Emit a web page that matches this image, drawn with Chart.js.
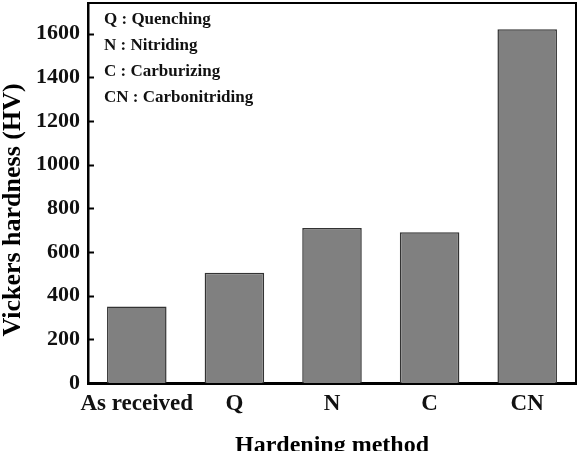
<!DOCTYPE html>
<html>
<head>
<meta charset="utf-8">
<script src="https://cdn.jsdelivr.net/npm/chart.js@4/dist/chart.umd.min.js"></script>
<style>
    html, body { margin: 0; padding: 0; background: #fff; overflow: hidden; }
    #wrap { width: 587px; height: 451px; }
</style>
</head>
<body>
<div id="wrap"><canvas id="myChart"></canvas></div>
<script>
const categories = ['As received', 'Q', 'N', 'C', 'CN']
const hardness = [350, 505, 710, 690, 1620]
const yTicks = [0, 200, 400, 600, 800, 1000, 1200, 1400, 1600]
const notes = ['Q : Quenching', 'N : Nitriding', 'C : Carburizing', 'CN : Carbonitriding']
const yTitle = 'Vickers hardness (HV)'
const xTitle = 'Hardening method'

const serif = '"Liberation Serif", "Times New Roman", serif'

// frame, inward ticks, notes box and y title
const extras = {
    id: 'extras',
    afterDraw(chart) {
        const ctx = chart.ctx
        const area = chart.chartArea
        const y = chart.scales.y
        ctx.save()
        ctx.strokeStyle = '#000'
        ctx.lineWidth = 2
        ctx.beginPath()
        ctx.moveTo(area.left, area.top)
        ctx.lineTo(area.right, area.top)
        ctx.lineTo(area.right, area.bottom)
        ctx.stroke()

        ctx.lineWidth = 2
        for (let v of yTicks) {
            let py = Math.round(y.getPixelForValue(v)) + 0.5
            ctx.beginPath()
            ctx.moveTo(area.left, py)
            ctx.lineTo(area.left + 6, py)
            ctx.stroke()
        }

        ctx.fillStyle = '#111'
        ctx.font = 'bold 17px ' + serif
        ctx.textAlign = 'left'
        ctx.textBaseline = 'middle'
        notes.forEach((t, i) => ctx.fillText(t, 104, 20 + i * 26))

        ctx.translate(13, 210)
        ctx.rotate(-Math.PI / 2)
        ctx.textAlign = 'center'
        ctx.font = 'bold 26px ' + serif
        ctx.fillStyle = '#000'
        ctx.fillText(yTitle, 0, 0)
        ctx.restore()
    }
}

const ctx = document.getElementById('myChart').getContext('2d')
const myChart = new Chart(ctx, {
    type: 'bar',
    data: {
        labels: categories,
        datasets: [{
            data: hardness,
            backgroundColor: '#808080',
            borderColor: '#333',
            borderWidth: 1.5,
            categoryPercentage: 1,
            barPercentage: 0.61
        }]
    },
    options: {
        responsive: true,
        maintainAspectRatio: false,
        animation: false,
        layout: { padding: { top: 3, right: 11, left: 0, bottom: 0 } },
        plugins: {
            legend: { display: false },
            tooltip: { enabled: false }
        },
        scales: {
            x: {
                grid: { display: false, drawTicks: false },
                border: { display: true, color: '#000', width: 3 },
                ticks: {
                    color: '#111',
                    padding: 7,
                    maxRotation: 0,
                    autoSkip: false,
                    font: { family: serif, size: 23, weight: 'bold' }
                },
                title: {
                    display: true,
                    text: xTitle,
                    color: '#000',
                    padding: { top: 0, bottom: -9 },
                    font: { family: serif, size: 24, weight: 'bold', lineHeight: 1.2 }
                },
                afterFit(scale) {
                    scale.height = 68
                    scale.paddingLeft = 0
                    scale.paddingRight = 0
                }
            },
            y: {
                min: 0,
                max: 1740,
                grid: { display: false, drawTicks: false },
                border: { display: true, color: '#000', width: 2.5 },
                ticks: {
                    color: '#111',
                    padding: 8,
                    callback: v => String(v),
                    font: { family: serif, size: 22, weight: 'bold' }
                },
                afterBuildTicks(scale) { scale.ticks = yTicks.map(v => ({ value: v })) },
                afterFit(scale) {
                    scale.width = 88
                    scale.paddingTop = 0
                    scale.paddingBottom = 0
                }
            }
        }
    },
    plugins: [extras]
})
</script>
</body>
</html>
